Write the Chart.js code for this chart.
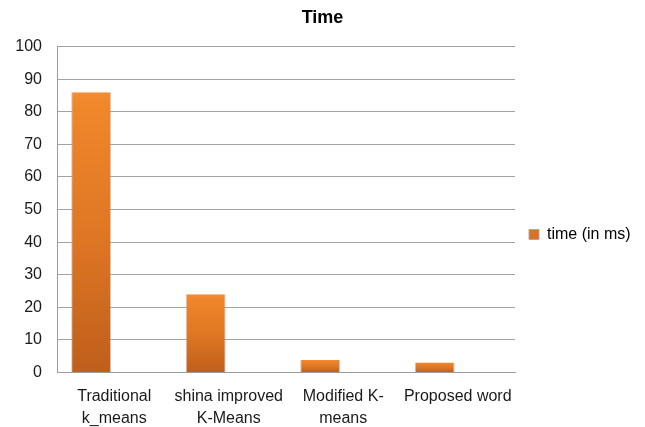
<!DOCTYPE html>
<html>
<head>
<meta charset="utf-8">
<script src="https://cdn.jsdelivr.net/npm/chart.js@4/dist/chart.umd.min.js"></script>
<style>
  html, body { margin: 0; padding: 0; background: #ffffff; }
  #wrap { width: 645px; height: 427px; }
</style>
</head>
<body>
<div id="wrap"><canvas id="c" width="645" height="427"></canvas></div>
<script>
// Algorithms compared, one category per bar group
const categories = [
  ['Traditional', 'k_means'],
  ['shina improved', 'K-Means'],
  ['Modified K-', 'means'],
  ['Proposed word']
];

// Run time of each algorithm, in milliseconds
const timeMs = [86, 24, 3.8, 3.1];

// The source table has a second, empty column; it keeps its slot in each group
const blankColumn = [null, null, null, null];

// Value axis
const yTicks = [0, 10, 20, 30, 40, 50, 60, 70, 80, 90, 100];

const FONT = "'Liberation Sans', Arial, sans-serif";
const LEGEND_WIDTH = 130;
const LEGEND_DROP = 21;

// Orange fill that runs from a bright top to a darker foot on every bar
function barFill(ctx) {
  const chart = ctx.chart;
  const area = chart.chartArea;
  const scale = chart.scales && chart.scales.y;
  if (!area || !scale || ctx.raw == null) return '#dc7423';
  const top = scale.getPixelForValue(ctx.raw);
  const base = scale.getPixelForValue(0);
  const g = chart.ctx.createLinearGradient(0, top, 0, Math.max(base, top + 1));
  g.addColorStop(0, '#f48e33');
  g.addColorStop(0.04, '#f0872b');
  g.addColorStop(0.5, '#df7724');
  g.addColorStop(1, '#bf5f1c');
  return g;
}

// Fixed-width legend column on the right, its entry sitting a little below centre
const legendPlacement = {
  id: 'legendPlacement',
  beforeLayout(chart) {
    const lg = chart.legend;
    if (lg && !lg.__fixed) {
      const fit = lg.fit.bind(lg);
      lg.fit = function () { fit(); this.width = LEGEND_WIDTH; };
      lg.__fixed = true;
    }
  },
  afterLayout(chart) {
    const lg = chart.legend;
    if (lg) {
      lg.top += LEGEND_DROP;
      lg.bottom += LEGEND_DROP;
    }
  }
};

new Chart(document.getElementById('c'), {
  type: 'bar',
  data: {
    labels: categories,
    datasets: [
      {
        label: 'time (in ms)',
        data: timeMs,
        backgroundColor: barFill,
        borderColor: 'rgba(170,170,170,0.6)',
        borderWidth: { left: 1, right: 1, top: 0, bottom: 0 },
        borderSkipped: false
      },
      {
        label: '',
        data: blankColumn,
        backgroundColor: 'rgba(0,0,0,0)'
      }
    ]
  },
  options: {
    responsive: false,
    animation: false,
    devicePixelRatio: 1,
    layout: { padding: 0 },
    datasets: {
      bar: { categoryPercentage: 0.806, barPercentage: 0.866 }
    },
    plugins: {
      title: {
        display: true,
        text: 'Time',
        color: '#000000',
        font: { family: FONT, size: 18, weight: 'bold', lineHeight: 1.2 },
        padding: { top: 7, bottom: 18 }
      },
      legend: {
        display: true,
        position: 'right',
        align: 'center',
        labels: {
          color: '#1a1a1a',
          font: { family: FONT, size: 16 },
          boxWidth: 10,
          boxHeight: 10,
          padding: 14,
          filter: (item) => item.datasetIndex === 0,
          generateLabels(chart) {
            return [{
              text: chart.data.datasets[0].label,
              fillStyle: '#d97222',
              strokeStyle: '#a9a9a9',
              lineWidth: 1,
              hidden: false,
              datasetIndex: 0
            }];
          }
        }
      },
      tooltip: { enabled: false }
    },
    scales: {
      x: {
        grid: { display: false, drawTicks: false },
        border: { display: true, color: '#9c9c9c', width: 1 },
        ticks: {
          color: '#1a1a1a',
          font: { family: FONT, size: 16, lineHeight: 1.375 },
          padding: 13,
          maxRotation: 0,
          autoSkip: false
        },
        afterFit(scale) { scale.height = 54.5; }
      },
      y: {
        min: 0,
        max: 100,
        afterBuildTicks(scale) { scale.ticks = yTicks.map(v => ({ value: v })); },
        grid: { color: '#a3a3a3', lineWidth: 1, drawTicks: false },
        border: { display: true, color: '#9c9c9c', width: 1 },
        ticks: {
          color: '#1a1a1a',
          font: { family: FONT, size: 16 },
          padding: 15
        },
        afterFit(scale) { scale.width = 57; }
      }
    }
  },
  plugins: [legendPlacement]
});
</script>
</body>
</html>
